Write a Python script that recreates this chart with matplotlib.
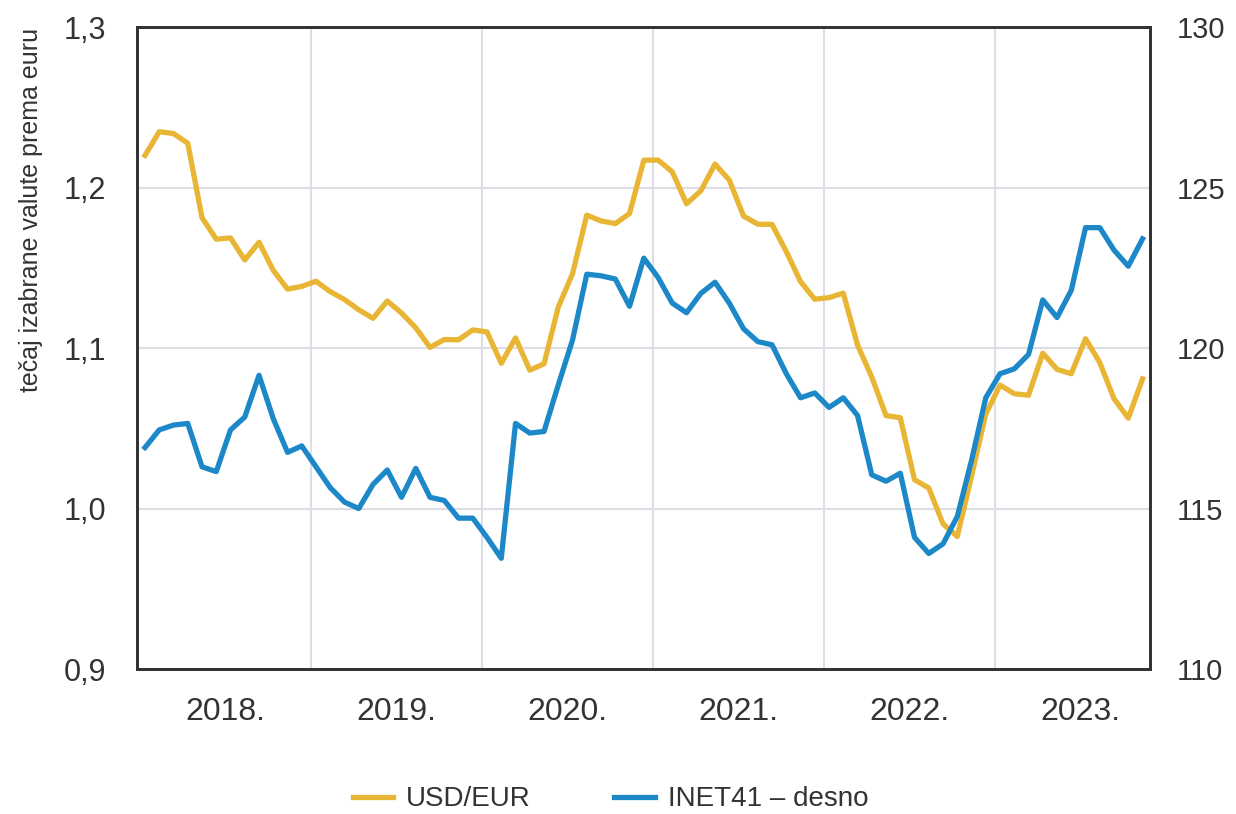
"""
USD/EUR exchange rate vs INET41 index, monthly 2018-2023
"""

from matplotlib import pyplot as plt
import numpy as np

start_year = 2018
years = [2018, 2019, 2020, 2021, 2022, 2023]
year_labels = ['2018.', '2019.', '2020.', '2021.', '2022.', '2023.']

# monthly values, Jan 2018 - Nov 2023
usd_eur = [1.2200, 1.2348, 1.2336, 1.2276, 1.1812, 1.1678, 1.1686, 1.1549, 1.1659, 1.1484, 1.1367, 1.1384,
           1.1416, 1.1351, 1.1302, 1.1238, 1.1185, 1.1293, 1.1218, 1.1126, 1.1004, 1.1053, 1.1051, 1.1113,
           1.1100, 1.0905, 1.1063, 1.0862, 1.0902, 1.1255, 1.1463, 1.1828, 1.1792, 1.1775, 1.1838, 1.2170,
           1.2171, 1.2098, 1.1899, 1.1979, 1.2146, 1.2047, 1.1822, 1.1772, 1.1770, 1.1601, 1.1414, 1.1304,
           1.1314, 1.1342, 1.1019, 1.0819, 1.0579, 1.0566, 1.0179, 1.0128, 0.9904, 0.9826, 1.0201, 1.0589,
           1.0769, 1.0715, 1.0706, 1.0968, 1.0867, 1.0840, 1.1058, 1.0909, 1.0684, 1.0563, 1.0808]

inet41 = [116.9, 117.45, 117.6, 117.65, 116.3, 116.15, 117.45, 117.85, 119.15, 117.8, 116.75, 116.95,
          116.3, 115.65, 115.2, 115.0, 115.75, 116.2, 115.35, 116.25, 115.35, 115.25, 114.7, 114.7,
          114.1, 113.45, 117.65, 117.35, 117.4, 118.85, 120.25, 122.3, 122.25, 122.15, 121.3, 122.8,
          122.2, 121.4, 121.1, 121.7, 122.05, 121.4, 120.6, 120.2, 120.1, 119.2, 118.45, 118.6,
          118.15, 118.45, 117.9, 116.05, 115.85, 116.1, 114.1, 113.6, 113.9, 114.75, 116.5, 118.45,
          119.2, 119.35, 119.8, 121.5, 120.95, 121.8, 123.75, 123.75, 123.05, 122.55, 123.4]

x = start_year + (np.arange(len(usd_eur)) + 0.35) / 12

yellow = '#e9b534'
blue = '#1c88c8'
dark = '#333333'
plt.rcParams['font.family'] = ['Liberation Sans', 'DejaVu Sans']

fig = plt.figure(figsize=(12.36, 8.14), dpi=100)
ax = fig.add_axes([0.1108, 0.1781, 0.8196, 0.7887])
ax2 = ax.twinx()

ax.plot(x, usd_eur, color=yellow, linewidth=3.8, label='USD/EUR')
ax2.plot(x, inet41, color=blue, linewidth=3.8, label='INET41 – desno')

ax.set_xlim(2017.982, 2023.906)
ax.set_ylim(0.9, 1.3)
ax2.set_ylim(110, 130)

ax.set_yticks([0.9, 1.0, 1.1, 1.2, 1.3])
ax.set_yticklabels(['0,9', '1,0', '1,1', '1,2', '1,3'])
ax2.set_yticks([110, 115, 120, 125, 130])

# year boundaries as grid, labels in the middle of each year
ax.set_xticks(years[1:])
ax.set_xticklabels([])
ax.set_xticks([y + 0.5 for y in years], minor=True)
ax.set_xticklabels(year_labels, minor=True, fontsize=23, color=dark)
ax.tick_params(axis='x', which='both', length=0, pad=20)

ax.grid(True, which='major', color='#dcdde5', linewidth=1.5)
ax.set_axisbelow(True)

ax.tick_params(axis='y', length=0, pad=22, labelsize=22, labelcolor=dark)
ax2.tick_params(axis='y', length=0, pad=19, labelsize=21, labelcolor=dark)

for a in (ax, ax2):
    for s in a.spines.values():
        s.set_color(dark)
        s.set_linewidth(2)

fig.text(0.025, 0.966, 'tečaj izabrane valute prema euru', rotation=90, va='top', ha='center',
         fontsize=18, color=dark)

h1, l1 = ax.get_legend_handles_labels()
h2, l2 = ax2.get_legend_handles_labels()
fig.legend(h1 + h2, l1 + l2, loc='center', bbox_to_anchor=(0.494, 0.018), ncol=2, frameon=False,
           prop={'size': 20}, handlelength=1.45, handletextpad=0.47,
           columnspacing=3.0, labelcolor=dark)

plt.savefig('out.png', dpi=100)
